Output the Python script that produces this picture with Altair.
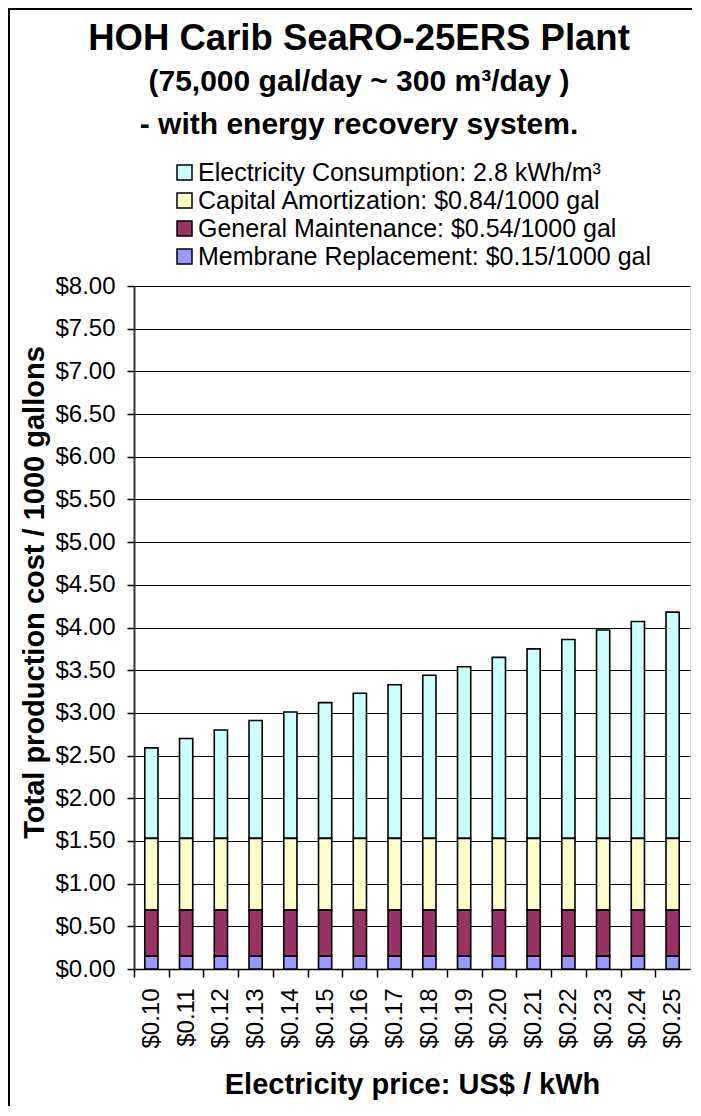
import altair as alt
import pandas as pd

prices = ["$0.10", "$0.11", "$0.12", "$0.13", "$0.14", "$0.15", "$0.16", "$0.17",
          "$0.18", "$0.19", "$0.20", "$0.21", "$0.22", "$0.23", "$0.24", "$0.25"]
membrane = [0.15] * 16
maintenance = [0.54] * 16
capital = [0.84] * 16
electricity = [1.06, 1.17, 1.27, 1.38, 1.48, 1.59, 1.70, 1.80,
               1.91, 2.01, 2.12, 2.22, 2.33, 2.44, 2.54, 2.65]

series_names = [
    "Electricity Consumption: 2.8 kWh/m³",
    "Capital Amortization: $0.84/1000 gal",
    "General Maintenance: $0.54/1000 gal",
    "Membrane Replacement: $0.15/1000 gal",
]
series_colors = ["#CCFFFF", "#FFFFCC", "#993366", "#9999FF"]
series_values = [electricity, capital, maintenance, membrane]
stack_rank = [3, 2, 1, 0]

rows = []
for name, vals, rank in zip(series_names, series_values, stack_rank):
    for p, v in zip(prices, vals):
        rows.append({"price": p, "series": name, "cost": v, "rank": rank})
df = pd.DataFrame(rows)

W, H = 556, 683
FONT = "Liberation Sans"
step = W / len(prices)

bars = alt.Chart(df).mark_bar(stroke="black", strokeWidth=1.6).encode(
    x=alt.X("price:N", sort=prices,
            scale=alt.Scale(paddingInner=0.62, paddingOuter=0.31),
            axis=alt.Axis(title="Electricity price: US$ / kWh", labelAngle=-90,
                          labelFontSize=24, labelFont=FONT, labelColor="black",
                          labelPadding=11, tickSize=8, tickColor="black", tickWidth=1.5,
                          tickOffset=-step / 2, labelOffset=step / 2,
                          domainColor="black", domainWidth=1.5,
                          titleFontSize=29, titleFont=FONT, titleFontWeight="bold",
                          titleColor="black", titleBaseline="alphabetic", titleY=124,
                          grid=False)),
    y=alt.Y("cost:Q", stack="zero",
            scale=alt.Scale(domain=[0, 8], nice=False),
            axis=alt.Axis(title="Total production cost / 1000 gallons", format="$.2f",
                          values=[i * 0.5 for i in range(17)],
                          labelFontSize=24, labelFont=FONT, labelColor="black",
                          labelPadding=12, tickSize=7, tickColor="black", tickWidth=1.5,
                          domainColor="#333333", domainWidth=2,
                          gridColor="black", gridWidth=1,
                          titleFontSize=29, titleFont=FONT, titleFontWeight="bold",
                          titleColor="black", titleAngle=-90, titleBaseline="alphabetic",
                          titleX=-91, titleY=306)),
    color=alt.Color("series:N", sort=series_names,
                    scale=alt.Scale(domain=series_names, range=series_colors),
                    legend=alt.Legend(title=None, orient="none", legendX=38, legendY=-126,
                                      symbolType="square", symbolSize=225,
                                      symbolStrokeColor="black", symbolStrokeWidth=1.5,
                                      labelFontSize=25, labelFont=FONT, labelColor="black",
                                      labelLimit=700, labelOffset=1, rowPadding=2,
                                      padding=0)),
    order=alt.Order("rank:Q", sort="ascending"),
)

one = pd.DataFrame({"a": [0]})
frame_top = alt.Chart(one).mark_rule(color="black", strokeWidth=2).encode(
    x=alt.value(-126), x2=alt.value(W + 20), y=alt.value(-277),
)
frame_left = alt.Chart(one).mark_rule(color="black", strokeWidth=2).encode(
    x=alt.value(-125), y=alt.value(-278), y2=alt.value(H + 200),
)

chart = alt.layer(bars, frame_top, frame_left).properties(
    width=W, height=H,
    title=alt.TitleParams(
        text="HOH Carib SeaRO-25ERS Plant",
        subtitle=["(75,000 gal/day ~ 300 m³/day )", "- with energy recovery system."],
        fontSize=36.5, font=FONT, fontWeight="bold", color="black",
        subtitleFontSize=30, subtitleFont=FONT, subtitleFontWeight="bold",
        subtitleColor="black", subtitleLineHeight=43, subtitlePadding=10,
        anchor="middle", frame="group", dx=-53, offset=0, dy=133,
    ),
    padding={"left": 126, "top": 278, "right": 2, "bottom": 137},
    autosize=alt.AutoSizeParams(type="none"),
).configure_view(
    fill="#C0C0C0", stroke="#808080", strokeWidth=1
).configure(background="white")

chart.save("out.html", embed_options={"renderer": "svg", "actions": False})
